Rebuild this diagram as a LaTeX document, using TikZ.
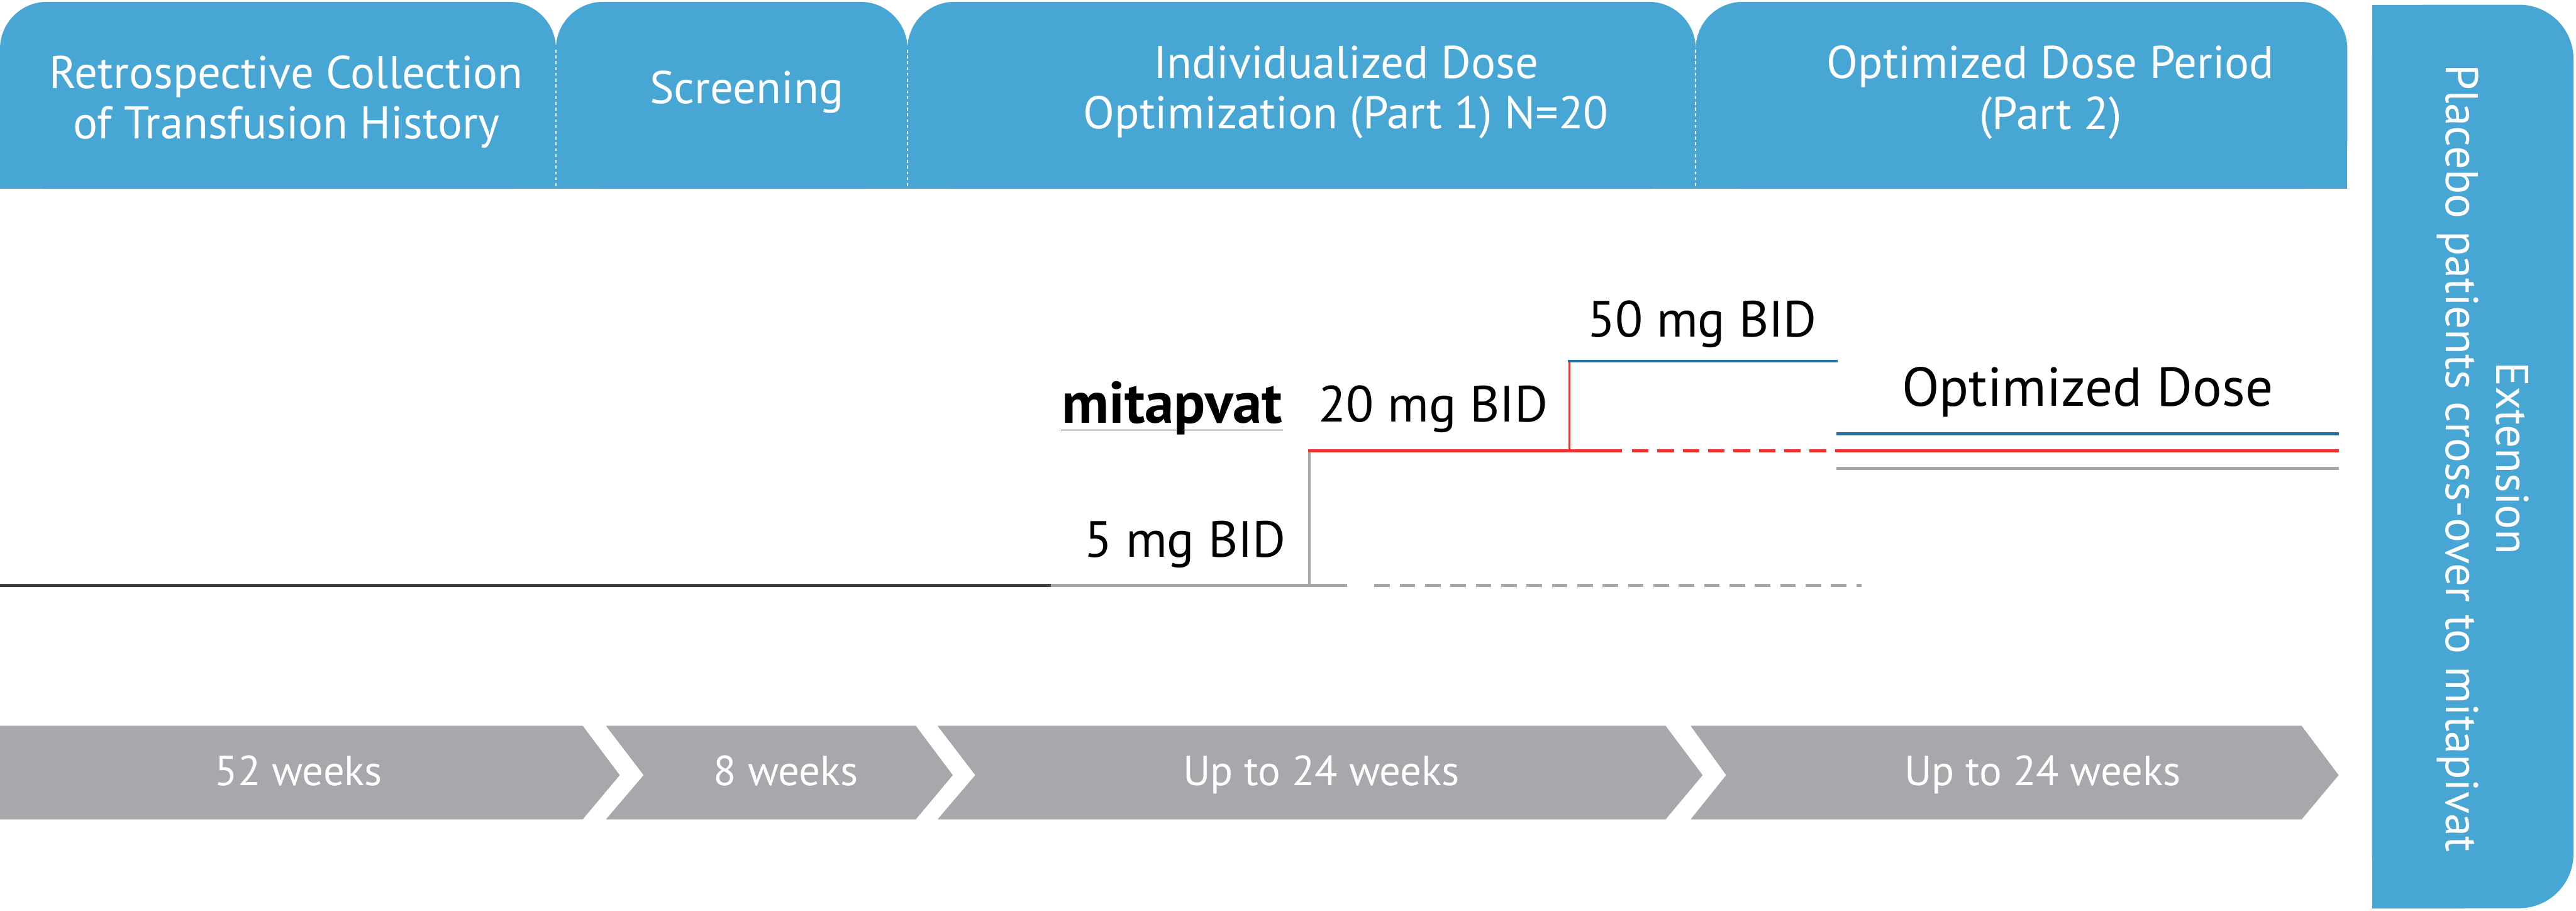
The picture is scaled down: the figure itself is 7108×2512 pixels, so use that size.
\documentclass[tikz,border=0pt]{standalone}
\usepackage{fontspec}
\setmainfont{PT Sans}
\usetikzlibrary{positioning}
\definecolor{tabblue}{RGB}{71,166,211}
\definecolor{wkgray}{RGB}{167,168,172}
\definecolor{dosegray}{RGB}{167,168,172}
\definecolor{dosered}{RGB}{237,50,48}
\definecolor{doseblue}{RGB}{31,113,170}
\definecolor{histgray}{RGB}{65,65,67}

\begin{document}
\begin{tikzpicture}[x=0.05mm,y=-0.05mm,
  tabfill/.style={fill=tabblue,rounded corners=6.5mm},
  tablabel/.style={text=white,align=center,inner sep=0pt,font=\fontsize{18}{19.8}\selectfont},
  sepline/.style={draw=white,line width=0.15mm,dash pattern=on 0.4mm off 0.4mm},
  weekbox/.style={fill=wkgray},
  weeklabel/.style={text=white,anchor=base,inner sep=0pt,font=\fontsize{16.5}{18}\selectfont},
  doselabel/.style={anchor=base west,inner sep=0pt,font=\fontsize{20}{24}\selectfont},
  doseline/.style={line width=0.42mm},
  riser/.style={line width=0.28mm}]
\useasboundingbox (0,0) rectangle (7108,2512);

% phase tabs
\foreach \xa/\xb in {0/1534,1534/2504,2504/4679,4679/6477}{
  \fill[tabfill] (\xa,5) rectangle (\xb,521);
  \fill[tabblue] (\xa,300) rectangle (\xb,521);
}
\foreach \x in {1534,2504,4679}
  \draw[sepline] (\x,137) -- (\x,521);

\node[tablabel] (retro) at (790,281) {Retrospective Collection\\of Transfusion History};
\node[tablabel,anchor=base] (screen) at (2060,285) {Screening};
\node[tablabel] (part1) at (3714,255) {Individualized Dose\\Optimization (Part 1) N=20};
\node[tablabel] (part2) at (5658,255) {Optimized Dose Period\\(Part 2)};

% extension
\fill[tabblue,rounded corners=7.5mm] (6545,13) rectangle (7101,2505);
\fill[tabblue] (6545,13) rectangle (6800,2505);
\node[tablabel,rotate=-90] (ext) at (6851,1264) {Extension\\Placebo patients cross-over to mitapivat};

% dose steps
\coordinate (hist0) at (0,1614);
\coordinate (hist1) at (2899,1614);
\coordinate (s5) at (3613,1614);
\coordinate (s20) at (3613,1244);
\coordinate (up20) at (4331,1244);
\coordinate (s50) at (4331,996);
\draw[riser,dosegray] (s5) -- (s20);
\draw[riser,dosered] (up20) -- (s50);
\draw[doseline,histgray] (hist0) -- (hist1);
\draw[doseline,dosegray] (hist1) -- (3717,1614);
\draw[doseline,dosegray,dash pattern=on 2.15mm off 1.35mm] (3792,1614) -- (5136,1614);
\draw[doseline,dosered] (3610,1244) -- (4475,1244);
\draw[doseline,dosered,dash pattern=on 2.3mm off 1.2mm] (4503,1244) -- (5040,1244);
\draw[doseline,doseblue] (4326,996) -- (5070,996);
\draw[doseline,doseblue] (5067,1196) -- (6453,1196);
\draw[doseline,dosered] (5064,1244) -- (6453,1244);
\draw[doseline,dosegray] (5067,1292) -- (6453,1292);

\node[doselabel,font=\fontsize{23}{24}\selectfont\bfseries] (drug) at (2928,1167) {mitapvat};
\draw[line width=0.15mm] ([yshift=-0.95mm]drug.base west) -- ([yshift=-0.95mm]drug.base east);
\node[doselabel] (d20) at (3637,1164) {20 mg BID};
\node[doselabel] (d50) at (4379,929) {50 mg BID};
\node[doselabel,anchor=base east] (d5) at (3550,1536) {5 mg BID};
\node[doselabel,anchor=base,font=\fontsize{21.5}{24}\selectfont] (opt) at (5760,1120) {Optimized Dose};

% durations
\foreach \xa/\xb/\nd in {0/1608/0,1672/2527/104,2587/4596/104,4665/6351/98}
  \fill[weekbox] (\xa,2002) -- (\xb,2002) -- ++(102,136) -- (\xb,2260)
    -- (\xa,2260) -- ++(\nd,-122) -- cycle;
\node[weeklabel] (w52) at (824,2167) {52 weeks};
\node[weeklabel] (w8) at (2169,2167) {8 weeks};
\node[weeklabel] (w24a) at (3646,2167) {Up to 24 weeks};
\node[weeklabel] (w24b) at (5636,2167) {Up to 24 weeks};
\end{tikzpicture}
\end{document}
